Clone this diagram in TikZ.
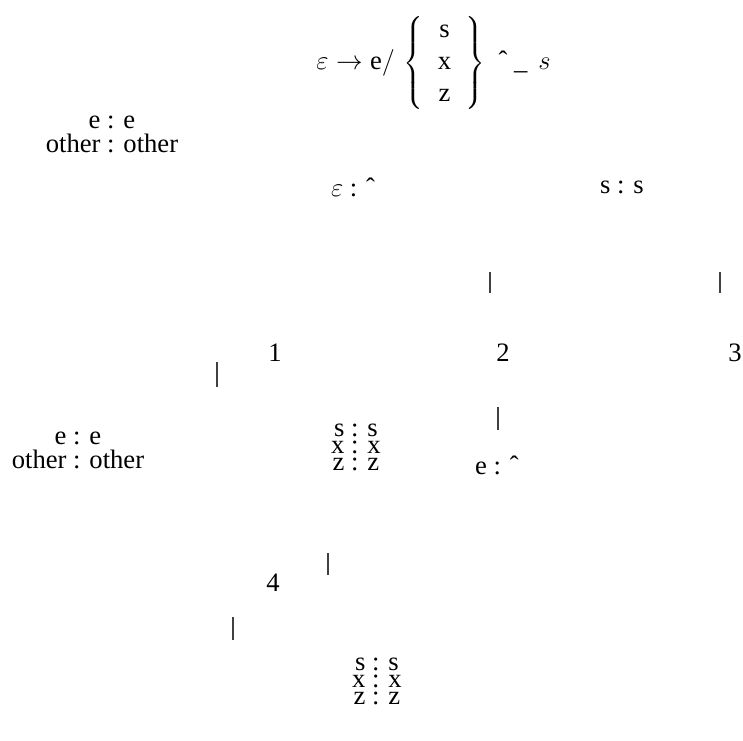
\documentclass[tikz,border=0pt]{standalone}
\usepackage{fontspec}
\setmainfont{Liberation Serif}
\newcommand{\hatmark}{\symbol{"02C6}}
\begin{document}
\begin{tikzpicture}[x=0.451pt,y=-0.451pt,
  lbl/.style={inner sep=0pt, align=center, font=\fontsize{12}{10.8}\selectfont},
  rulebox/.style={inner sep=0pt, font=\fontsize{12}{14.6}\selectfont},
  stk/.style={inner sep=0pt, align=center, font=\fontsize{12}{7.7}\selectfont},
  stnum/.style={inner sep=0pt, font=\fontsize{12}{14}\selectfont},
  tick/.style={line width=0.55pt, black!75}]
\useasboundingbox (0,0) rectangle (743,740);
% rule
\node[rulebox, anchor=west] (rule) at (316,63) {\arraycolsep=6.5pt$\varepsilon \rightarrow \mbox{e}/\,\left\{\begin{array}{c}\mbox{s}\\ \mbox{x}\\ \mbox{z}\end{array}\right\}$\ \ \hatmark\ \_\ \,$s$};
% labels
\node[lbl] (loopA) at (112,134) {e : e\\other : other};
\node[lbl] (epsl) at (353,187) {$\varepsilon$ : \hatmark};
\node[lbl] (ssl) at (622,187) {s : s};
\node[stnum] (q1) at (275,353) {1};
\node[stnum] (q2) at (503,353) {2};
\node[stnum] (q3) at (735,353) {3};
\node[lbl] (loopB) at (78,450) {e : e\\other : other};
\node[stk] (sxzA) at (356,447) {s : s\\x : x\\z : z};
\node[lbl] (ehat) at (497,465) {e : \hatmark};
\node[stnum] (q4) at (273,583) {4};
\node[stk] (sxzB) at (377,681) {s : s\\x : x\\z : z};
% tick marks
\draw[tick] (490,272) -- (490,293);
\draw[tick] (720,272) -- (720,293);
\draw[tick] (217,362) -- (217,387);
\draw[tick] (498,407) -- (498,430);
\draw[tick] (328,553) -- (328,575);
\draw[tick] (233,617) -- (233,640);
\end{tikzpicture}
\end{document}
